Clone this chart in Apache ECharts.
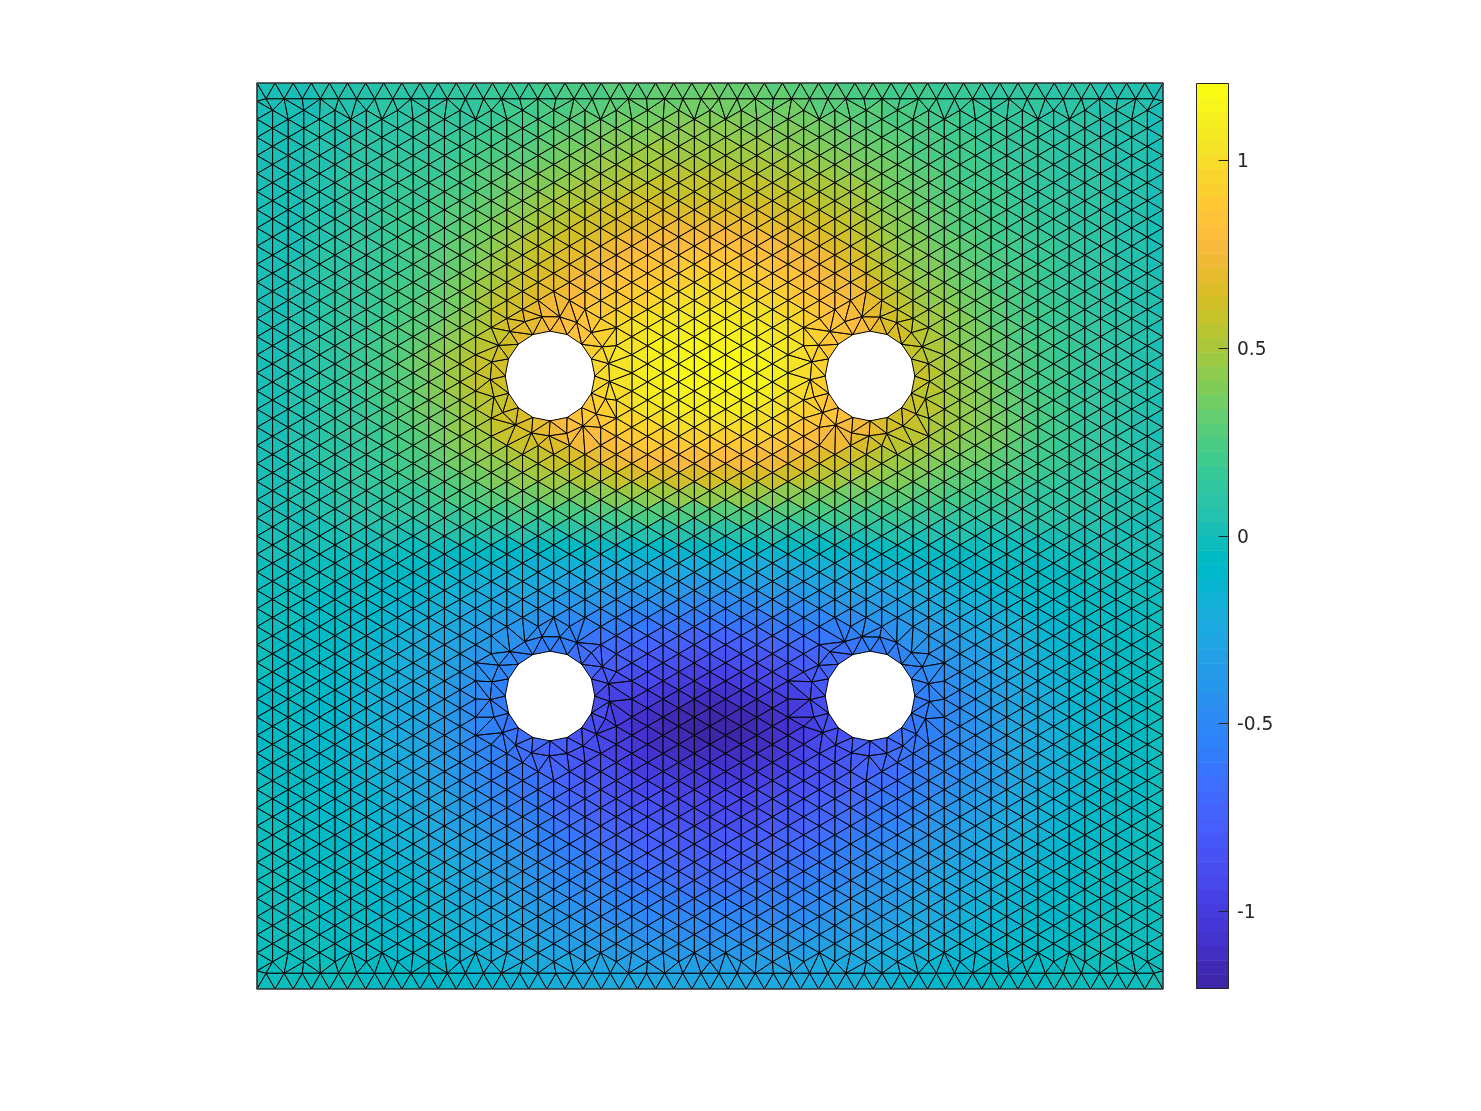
<!DOCTYPE html>
<html>
<head>
<meta charset="utf-8">
<style>html,body{margin:0;padding:0;background:#fff}#chart{width:1481px;height:1111px}</style>
<script src="https://cdn.jsdelivr.net/npm/echarts@6/dist/echarts.min.js"></script>
</head>
<body>
<div id="chart"></div>
<script>
// Field value at each mesh node, in hundredths. Rows run top to bottom, columns left to right.
const nodeValues = [
[1,2,3,3,4,5,6,6,7,8,9,10,11,12,13,14,15,17,19,21,23,24,26,27,28,29,30,31,31,32,32,31,31,30,29,28,27,26,25,24,22,21,20,18,17,16,15,14,13,12,11,10,9,8,7,6,5,4,3],
[1,2,3,3,4,5,6,7,8,9,10,11,12,13,15,16,18,20,22,24,26,28,29,31,32,33,34,35,36,36,36,36,35,34,33,32,31,30,28,27,25,24,22,21,19,18,16,15,14,13,11,10,9,8,7,6,5,4,3],
[1,2,3,4,4,6,7,8,9,10,11,12,14,15,17,19,21,23,25,27,29,31,33,35,36,38,39,40,40,40,40,40,39,38,37,36,34,33,31,30,28,26,24,23,21,19,17,16,15,13,12,10,9,8,7,6,5,4,3],
[1,2,3,4,5,6,7,8,10,11,12,14,16,18,20,22,24,26,29,31,33,36,38,40,41,43,44,45,45,45,45,45,44,43,42,40,39,37,35,33,30,28,26,24,22,20,18,17,15,14,12,11,10,8,7,6,5,4,3],
[1,2,3,4,5,7,8,9,11,12,14,16,18,20,23,25,28,30,33,36,38,41,43,45,47,48,49,50,50,50,50,50,49,48,47,45,44,42,40,37,34,31,29,26,24,22,20,18,16,15,13,11,10,9,8,6,5,4,3],
[1,2,3,4,5,7,9,10,12,14,16,18,20,23,26,29,32,35,38,41,44,47,49,51,53,54,55,56,56,56,56,56,55,54,53,51,49,47,45,42,37,34,31,28,26,23,21,19,17,15,13,12,10,9,8,7,5,4,3],
[1,2,3,4,6,8,9,11,13,15,17,20,23,26,29,32,36,39,43,46,49,52,55,57,59,60,61,62,62,62,62,62,61,60,58,56,54,52,49,46,41,37,34,31,28,25,22,20,18,16,14,12,11,9,8,7,5,4,3],
[1,2,3,4,6,8,10,12,14,17,19,22,25,29,33,36,40,44,48,51,55,58,61,63,65,66,67,68,68,68,68,68,67,66,64,62,60,57,54,50,44,40,36,33,29,26,24,21,19,17,15,13,11,10,8,7,6,4,3],
[1,2,3,4,6,9,11,13,15,18,21,24,28,31,35,39,45,49,53,57,60,64,67,69,71,72,74,75,75,75,75,75,74,72,70,68,65,62,59,55,47,43,39,35,31,28,25,22,20,18,16,14,12,10,9,7,6,4,3],
[1,2,3,4,7,9,11,14,16,19,22,25,29,33,37,43,49,54,58,62,66,69,72,75,77,79,80,82,82,82,82,81,80,78,76,73,71,68,64,60,51,46,42,38,34,30,27,24,21,19,17,15,13,11,9,8,6,4,3],
[1,2,3,5,7,10,12,14,17,20,23,26,30,35,40,46,53,58,63,67,71,74,78,81,83,85,87,89,90,90,90,89,87,85,82,79,76,73,69,65,55,50,45,41,37,33,29,26,23,20,18,15,13,11,10,8,6,4,3],
[2,2,4,5,8,10,12,15,18,21,24,28,32,37,43,50,57,62,67,71,75,79,83,86,89,91,93,96,97,97,97,96,94,91,88,85,81,78,74,70,59,54,49,44,40,36,32,28,25,22,19,16,14,12,10,8,6,5,3],
[2,3,4,5,8,11,13,16,19,22,26,30,34,39,45,52,60,65,70,75,79,83,87,91,94,97,100,102,104,104,104,103,101,98,94,90,86,82,78,74,63,58,52,47,43,38,34,30,26,23,20,17,15,12,10,9,7,5,3],
[2,3,4,6,8,11,14,17,20,24,28,32,37,43,49,56,63,68,73,78,83,87,92,96,100,103,106,108,110,110,110,109,107,104,99,95,90,86,82,78,67,62,56,50,46,41,36,32,28,24,21,18,16,13,11,9,7,5,3],
[2,3,4,6,9,12,14,17,21,25,30,35,41,47,53,60,64,68,73,78,83,88,94,99,103,107,110,113,115,115,115,114,111,108,103,98,93,88,83,78,69,64,59,53,48,43,38,33,29,25,22,19,16,14,11,9,7,5,3],
[2,3,4,6,9,12,15,18,22,27,32,38,44,50,56,60,63,68,73,78,83,89,95,101,106,110,113,116,118,119,119,118,115,111,106,100,95,89,84,78,69,64,60,55,50,45,40,35,31,27,23,20,17,14,12,9,7,5,3],
[2,3,5,6,9,12,15,18,22,27,32,38,44,50,56,60,62,68,73,78,83,90,96,102,107,111,114,117,119,119,119,118,116,111,106,100,94,88,83,78,69,64,60,55,50,45,40,36,31,27,23,20,17,14,12,9,7,5,3],
[2,3,4,6,9,12,14,17,22,26,31,37,42,48,54,58,61,66,71,76,82,88,94,99,104,108,111,114,115,115,115,114,112,107,102,97,91,85,80,76,68,63,59,55,50,45,41,36,32,28,24,20,17,14,12,9,7,5,3],
[2,3,4,6,8,11,13,17,21,25,30,35,40,46,51,56,60,65,70,75,80,85,90,95,99,102,104,106,108,108,108,107,105,102,97,92,87,82,78,74,66,62,58,54,50,46,42,37,33,29,25,21,17,14,12,9,7,5,3],
[2,3,4,5,8,11,13,16,19,24,28,32,37,43,48,53,57,62,67,71,76,80,84,88,91,94,96,97,98,98,98,97,96,93,89,85,81,77,73,69,62,58,55,52,48,45,42,38,34,29,24,20,16,14,11,9,7,5,3],
[2,2,4,5,8,10,12,15,18,22,26,30,34,39,44,48,52,56,60,64,68,72,76,79,82,84,85,85,85,85,85,85,84,81,78,75,72,69,66,62,57,53,49,46,43,40,37,34,30,26,22,19,16,13,11,9,7,5,3],
[2,2,3,5,7,9,11,13,16,19,23,26,30,34,38,42,45,49,52,55,58,61,64,67,69,71,72,72,72,72,72,72,71,69,67,64,61,58,55,52,48,45,42,39,36,33,31,28,25,22,19,17,15,12,10,9,7,5,3],
[2,3,4,5,6,8,10,12,14,16,19,22,25,28,31,34,37,39,41,43,45,47,49,51,53,54,55,55,55,55,55,55,54,52,50,48,46,43,41,39,37,35,33,31,29,27,25,23,21,18,16,14,13,11,9,8,6,4,3],
[2,2,3,4,5,7,8,9,11,13,15,17,19,21,23,25,27,28,29,30,31,32,33,34,35,35,36,36,36,36,36,36,35,34,33,32,30,29,27,26,25,24,23,21,20,19,17,16,14,12,11,10,9,8,7,6,5,4,3],
[1,2,2,3,3,5,6,7,8,9,10,11,12,12,13,14,14,15,15,15,16,16,16,17,17,17,17,17,17,17,17,17,16,16,16,15,15,14,14,13,13,12,12,11,10,10,9,9,8,7,7,6,6,5,5,4,4,3,3],
[1,1,1,1,1,2,2,2,2,1,1,1,0,0,0,-1,-1,-1,-1,-2,-2,-2,-2,-2,-2,-2,-2,-2,-2,-2,-2,-2,-2,-2,-2,-2,-2,-1,-1,-1,0,0,0,0,1,1,1,1,1,1,1,1,1,1,2,2,2,2,2],
[0,0,0,-1,-1,-2,-2,-3,-3,-4,-5,-6,-7,-8,-9,-10,-11,-12,-13,-14,-15,-15,-16,-16,-16,-17,-17,-17,-17,-17,-17,-17,-17,-16,-16,-15,-15,-14,-13,-12,-11,-10,-9,-8,-7,-7,-6,-5,-4,-4,-3,-3,-2,-2,-1,-1,0,0,0],
[-1,-1,-2,-2,-3,-4,-4,-5,-6,-8,-9,-11,-12,-14,-16,-18,-19,-21,-22,-24,-25,-26,-27,-28,-28,-29,-29,-30,-30,-30,-30,-30,-29,-29,-28,-27,-26,-25,-23,-22,-20,-19,-17,-15,-14,-12,-11,-10,-8,-7,-6,-5,-5,-4,-3,-3,-2,-1,0],
[-2,-2,-3,-3,-4,-5,-6,-7,-9,-10,-12,-14,-16,-19,-21,-24,-26,-28,-30,-32,-34,-36,-37,-38,-39,-40,-41,-41,-42,-42,-42,-42,-41,-40,-39,-38,-36,-35,-33,-31,-29,-27,-25,-22,-20,-18,-16,-14,-12,-11,-9,-8,-7,-6,-5,-4,-3,-2,-1],
[-2,-3,-3,-4,-5,-6,-7,-9,-11,-13,-15,-17,-20,-23,-26,-29,-32,-35,-38,-41,-43,-45,-47,-49,-51,-52,-53,-54,-55,-55,-55,-55,-54,-52,-51,-49,-47,-45,-43,-40,-37,-35,-32,-29,-26,-23,-21,-18,-16,-14,-12,-10,-9,-7,-6,-5,-4,-3,-2],
[-3,-3,-4,-5,-6,-7,-9,-11,-13,-15,-18,-20,-24,-27,-31,-35,-39,-43,-47,-50,-53,-56,-58,-60,-62,-64,-65,-67,-68,-68,-68,-68,-67,-65,-63,-61,-59,-56,-53,-50,-47,-44,-40,-36,-33,-29,-26,-23,-20,-17,-15,-13,-11,-9,-7,-6,-5,-3,-2],
[-3,-4,-5,-5,-7,-8,-10,-12,-14,-17,-20,-23,-27,-31,-36,-41,-46,-50,-54,-58,-62,-65,-68,-71,-73,-75,-77,-79,-80,-80,-80,-79,-78,-76,-74,-72,-69,-66,-63,-60,-56,-52,-47,-43,-39,-34,-30,-27,-23,-20,-17,-15,-12,-10,-8,-7,-5,-4,-3],
[-3,-4,-5,-6,-7,-9,-11,-13,-16,-19,-22,-26,-30,-35,-41,-46,-51,-56,-60,-64,-68,-73,-77,-81,-84,-87,-89,-91,-92,-92,-92,-91,-89,-87,-84,-80,-76,-72,-69,-66,-62,-58,-53,-48,-44,-39,-34,-30,-26,-23,-19,-16,-14,-11,-9,-7,-5,-4,-3],
[-4,-4,-5,-6,-8,-10,-12,-14,-17,-21,-24,-28,-33,-38,-44,-50,-55,-60,-64,-68,-72,-78,-83,-88,-92,-96,-99,-101,-103,-103,-103,-102,-99,-96,-92,-87,-82,-77,-72,-68,-65,-61,-57,-52,-47,-42,-37,-33,-28,-25,-21,-18,-15,-12,-10,-8,-6,-4,-3],
[-4,-5,-6,-7,-8,-10,-13,-15,-18,-22,-26,-30,-35,-41,-47,-53,-58,-62,-67,-72,-77,-83,-89,-95,-100,-104,-108,-110,-112,-113,-113,-112,-109,-105,-100,-94,-88,-81,-75,-70,-66,-62,-59,-55,-50,-45,-40,-35,-30,-26,-22,-19,-16,-13,-11,-8,-6,-4,-3],
[-4,-5,-6,-7,-9,-11,-13,-15,-19,-23,-27,-31,-36,-42,-48,-54,-59,-63,-68,-74,-80,-86,-93,-100,-106,-111,-114,-117,-118,-119,-119,-118,-115,-110,-105,-99,-92,-85,-78,-72,-68,-64,-60,-56,-51,-46,-41,-36,-31,-27,-23,-19,-16,-13,-11,-8,-6,-4,-3],
[-4,-5,-6,-7,-9,-11,-13,-15,-19,-23,-27,-31,-36,-42,-48,-54,-59,-63,-68,-74,-80,-86,-92,-98,-104,-109,-112,-115,-117,-117,-117,-116,-113,-109,-104,-98,-92,-86,-79,-74,-70,-65,-61,-57,-52,-47,-41,-36,-31,-27,-23,-19,-16,-13,-11,-8,-6,-4,-3],
[-4,-5,-6,-7,-9,-11,-13,-15,-18,-22,-26,-30,-35,-41,-47,-53,-58,-63,-69,-74,-80,-85,-90,-95,-100,-104,-107,-109,-110,-110,-110,-109,-107,-103,-99,-94,-89,-84,-79,-75,-71,-66,-61,-56,-51,-46,-41,-36,-31,-27,-23,-19,-16,-13,-11,-8,-6,-4,-3],
[-4,-4,-5,-7,-8,-10,-12,-14,-17,-21,-25,-29,-34,-39,-45,-51,-57,-62,-67,-72,-77,-81,-86,-90,-94,-97,-100,-101,-102,-102,-102,-101,-99,-96,-93,-89,-85,-81,-76,-72,-68,-63,-58,-53,-48,-43,-39,-34,-30,-26,-22,-18,-15,-13,-10,-8,-6,-4,-2],
[-3,-4,-5,-6,-8,-9,-11,-13,-16,-20,-24,-27,-32,-37,-42,-48,-53,-58,-63,-67,-72,-76,-80,-84,-87,-90,-92,-93,-94,-94,-94,-93,-92,-89,-86,-83,-79,-75,-71,-67,-63,-58,-54,-49,-45,-40,-36,-32,-28,-24,-20,-17,-14,-12,-9,-7,-5,-4,-2],
[-3,-4,-5,-6,-7,-9,-10,-13,-15,-19,-22,-25,-30,-34,-39,-44,-49,-54,-59,-63,-68,-72,-76,-80,-83,-86,-88,-90,-92,-92,-92,-91,-89,-86,-83,-79,-75,-71,-67,-63,-59,-54,-50,-45,-41,-37,-33,-29,-26,-22,-19,-16,-13,-11,-8,-7,-5,-3,-2],
[-3,-3,-4,-5,-7,-8,-10,-12,-14,-17,-20,-23,-27,-31,-36,-40,-45,-49,-54,-58,-62,-66,-70,-74,-77,-79,-81,-83,-85,-85,-85,-84,-82,-79,-76,-73,-69,-65,-61,-57,-54,-49,-45,-41,-37,-33,-30,-26,-23,-20,-17,-14,-12,-10,-8,-6,-4,-3,-2],
[-2,-3,-4,-5,-6,-7,-9,-11,-13,-16,-18,-21,-25,-28,-32,-36,-41,-45,-49,-53,-57,-60,-64,-67,-70,-73,-75,-77,-78,-78,-78,-77,-75,-72,-69,-66,-63,-59,-55,-52,-48,-44,-41,-37,-33,-30,-27,-23,-20,-18,-15,-13,-11,-9,-7,-5,-4,-3,-1],
[-2,-3,-3,-4,-5,-7,-8,-10,-12,-14,-16,-19,-22,-25,-29,-33,-37,-41,-45,-48,-52,-55,-58,-61,-64,-67,-69,-71,-72,-72,-72,-71,-69,-66,-63,-60,-57,-53,-50,-47,-43,-40,-36,-33,-30,-27,-24,-21,-18,-16,-14,-12,-10,-8,-6,-5,-3,-2,-1],
[-2,-2,-3,-4,-5,-6,-8,-9,-11,-13,-15,-17,-20,-23,-26,-30,-33,-37,-41,-44,-47,-50,-53,-56,-59,-61,-62,-63,-64,-64,-64,-63,-62,-60,-58,-55,-52,-49,-45,-42,-39,-36,-33,-30,-27,-24,-21,-19,-16,-14,-12,-10,-9,-7,-5,-4,-3,-2,-1],
[-2,-2,-3,-3,-4,-6,-7,-8,-10,-12,-13,-15,-18,-21,-24,-27,-30,-33,-37,-40,-43,-46,-49,-51,-53,-54,-55,-56,-57,-57,-57,-56,-55,-54,-52,-50,-47,-44,-41,-38,-35,-32,-29,-26,-24,-21,-19,-16,-14,-12,-10,-9,-7,-6,-5,-3,-2,-2,-1],
[-1,-2,-2,-3,-4,-5,-6,-7,-9,-11,-12,-14,-16,-19,-21,-24,-27,-30,-33,-36,-38,-41,-43,-45,-47,-48,-49,-50,-50,-50,-50,-50,-49,-48,-46,-44,-42,-39,-36,-34,-31,-29,-26,-23,-21,-19,-16,-14,-12,-11,-9,-8,-6,-5,-4,-3,-2,-1,-1],
[-1,-1,-2,-3,-3,-4,-5,-6,-8,-9,-11,-12,-14,-16,-19,-21,-24,-26,-29,-31,-33,-35,-37,-39,-40,-41,-42,-43,-43,-43,-43,-43,-42,-41,-39,-37,-35,-33,-31,-29,-27,-25,-22,-20,-18,-16,-14,-12,-11,-9,-8,-7,-5,-4,-3,-3,-2,-1,0],
[-1,-1,-2,-2,-3,-4,-4,-5,-7,-8,-9,-11,-12,-14,-16,-18,-20,-22,-24,-26,-28,-29,-31,-32,-33,-34,-35,-35,-36,-36,-36,-35,-35,-34,-32,-31,-29,-27,-25,-24,-22,-20,-18,-17,-15,-13,-12,-10,-9,-8,-6,-5,-4,-3,-3,-2,-1,-1,0],
[-1,-1,-1,-2,-2,-3,-4,-4,-5,-6,-8,-9,-10,-12,-13,-15,-16,-18,-20,-22,-23,-25,-26,-27,-28,-28,-29,-29,-30,-30,-30,-29,-29,-28,-27,-26,-24,-23,-21,-20,-18,-17,-15,-14,-12,-11,-10,-8,-7,-6,-5,-4,-3,-3,-2,-2,-1,0,0],
[0,-1,-1,-1,-2,-2,-3,-4,-4,-5,-6,-7,-8,-10,-11,-12,-14,-15,-17,-18,-19,-20,-21,-22,-23,-23,-24,-24,-24,-24,-24,-24,-23,-23,-22,-21,-20,-19,-18,-16,-15,-14,-13,-11,-10,-9,-8,-7,-6,-5,-4,-3,-3,-2,-2,-1,-1,0,0]
];
const colormap = [[.2422,.1504,.6603],[.2504,.165,.7076],[.2578,.1818,.7511],[.2647,.1978,.7952],[.2706,.2147,.8364],[.2751,.2342,.871],[.2783,.2559,.8991],[.2803,.2782,.9221],[.2813,.3006,.9414],[.281,.3228,.9579],[.2795,.3447,.9717],[.276,.3667,.9829],[.2699,.3892,.9906],[.2602,.4123,.9952],[.244,.4358,.9988],[.2206,.4603,.9973],[.1963,.4847,.9892],[.1834,.5074,.9798],[.1786,.5289,.9682],[.1764,.5499,.952],[.1687,.5703,.9359],[.154,.5902,.9218],[.146,.6091,.9079],[.138,.6276,.8973],[.1248,.6459,.8883],[.1113,.6635,.8763],[.0952,.6798,.8598],[.0689,.6948,.8394],[.0297,.7082,.8163],[.0036,.7203,.7917],[.0067,.7312,.766],[.0433,.7411,.7394],[.0964,.75,.712],[.1408,.7584,.6842],[.1717,.767,.6554],[.1938,.7758,.6251],[.2161,.7843,.5923],[.247,.7918,.5567],[.2906,.7973,.5188],[.3406,.8008,.4789],[.3909,.8029,.4354],[.4456,.8024,.3909],[.5044,.7993,.348],[.5616,.7942,.3045],[.6174,.7876,.2612],[.672,.7793,.2227],[.7242,.7698,.191],[.7738,.7598,.1646],[.8203,.7498,.1535],[.8634,.7406,.1596],[.9035,.733,.1774],[.9393,.7288,.21],[.9728,.7298,.2394],[.9956,.7434,.2371],[.997,.7659,.2199],[.9952,.7893,.2028],[.9892,.8136,.1885],[.9786,.8386,.1766],[.9676,.8639,.1643],[.961,.889,.1537],[.9597,.9135,.1423],[.9628,.9373,.1265],[.9691,.9606,.1064],[.9769,.9839,.0805]];
const colorLimits = [-1.205, 1.205];
const colorbarTicks = [-1, -0.5, 0, 0.5, 1];
const holeCenters = [[0.3234,0.3234],[0.6766,0.3234],[0.3234,0.6766],[0.6766,0.6766]];
const holeRadius = 0.0495;
const holeSides = 16;
const meshCols = 58, meshRows = 50;

const toCss = c => 'rgb(' + c.map(v => Math.round(v * 255)).join(',') + ')';
const levelColor = v => {
  const k = Math.floor((v - colorLimits[0]) / (colorLimits[1] - colorLimits[0]) * colormap.length);
  return toCss(colormap[Math.max(0, Math.min(colormap.length - 1, k))]);
};
const nearestValue = (x, y) => {
  const i = Math.max(0, Math.min(meshCols, Math.round(x * meshCols)));
  const off = i % 2 ? 0.5 : 0;
  const j = Math.max(0, Math.min(meshRows, Math.round(y * meshRows - off)));
  return nodeValues[j][i] / 100;
};

// mesh nodes: a lattice, plus boundary layers and hole rims
const nodes = [];
const band = 26 / 906, rowGap = 15.7 / 906, ringGap = 15 / 906, holeGap = 25 / 906;
for (let i = 0; i <= meshCols; i++) {
  const odd = i % 2;
  for (let j = 0; j <= meshRows - (odd ? 1 : 0); j++) {
    const x = i / meshCols, y = (j + (odd ? 0.5 : 0)) / meshRows;
    const edgeCol = i === 0 || i === meshCols;
    if (y === 0 || y === 1) continue;
    if (!edgeCol && (y < band || y > 1 - band)) continue;
    if (holeCenters.some(h => Math.hypot(x - h[0], y - h[1]) < holeRadius + holeGap)) continue;
    nodes.push([x, y, nodeValues[j][i] / 100]);
  }
}
for (let k = 0; k <= meshRows; k++) {
  for (const y of [0, 1]) nodes.push([k / meshRows, y, nearestValue(k / meshRows, y)]);
  if (k < meshRows) for (const y of [rowGap, 1 - rowGap]) {
    nodes.push([(k + 0.5) / meshRows, y, nearestValue((k + 0.5) / meshRows, y)]);
  }
}
for (const h of holeCenters) {
  for (let s = 0; s < holeSides; s++) {
    const a = 2 * Math.PI * s / holeSides;
    const x = h[0] + holeRadius * Math.cos(a), y = h[1] + holeRadius * Math.sin(a);
    nodes.push([x, y, nearestValue(x, y)]);
  }
  const outerSides = holeSides + 5;
  for (let s = 0; s < outerSides; s++) {
    const a = 2 * Math.PI * (s + 0.3) / outerSides;
    const x = h[0] + (holeRadius + ringGap) * Math.cos(a), y = h[1] + (holeRadius + ringGap) * Math.sin(a);
    nodes.push([x, y, nearestValue(x, y)]);
  }
}

// Bowyer-Watson triangulation of the nodes
function triangulate(pts) {
  const P = pts.map((p, k) => {
    const f = (k * 0.6180339887) % 1;
    return [p[0] + f * 2e-7, p[1] + ((k * 0.7548776662) % 1) * 2e-7];
  });
  const n = P.length;
  P.push([-20, -20], [40, -20], [0.5, 60]);
  const circ = (a, b, c) => {
    const [ax, ay] = P[a], [bx, by] = P[b], [cx, cy] = P[c];
    const d = 2 * (ax * (by - cy) + bx * (cy - ay) + cx * (ay - by));
    const a2 = ax * ax + ay * ay, b2 = bx * bx + by * by, c2 = cx * cx + cy * cy;
    const ux = (a2 * (by - cy) + b2 * (cy - ay) + c2 * (ay - by)) / d;
    const uy = (a2 * (cx - bx) + b2 * (ax - cx) + c2 * (bx - ax)) / d;
    return { a, b, c, ux, uy, r2: (ax - ux) ** 2 + (ay - uy) ** 2 };
  };
  let tris = [circ(n, n + 1, n + 2)];
  for (let k = 0; k < n; k++) {
    const [x, y] = P[k];
    const keep = [], edges = new Map();
    for (const t of tris) {
      if ((x - t.ux) ** 2 + (y - t.uy) ** 2 < t.r2) {
        for (const [u, v] of [[t.a, t.b], [t.b, t.c], [t.c, t.a]]) {
          const key = u < v ? u + '_' + v : v + '_' + u;
          if (edges.has(key)) edges.set(key, null); else edges.set(key, [u, v]);
        }
      } else keep.push(t);
    }
    for (const e of edges.values()) if (e) keep.push(circ(e[0], e[1], k));
    tris = keep;
  }
  return tris.filter(t => t.a < n && t.b < n && t.c < n);
}

const faces = [];
for (const t of triangulate(nodes)) {
  const A = nodes[t.a], B = nodes[t.b], C = nodes[t.c];
  const cx = (A[0] + B[0] + C[0]) / 3, cy = (A[1] + B[1] + C[1]) / 3;
  if (holeCenters.some(h => Math.hypot(cx - h[0], cy - h[1]) < holeRadius)) continue;
  faces.push([A[0], A[1], B[0], B[1], C[0], C[1], (A[2] + B[2] + C[2]) / 3]);
}

const bandHeight = (colorLimits[1] - colorLimits[0]) / colormap.length;
const colorbarBands = colormap.map((c, k) => [0, colorLimits[0] + k * bandHeight, 1, colorLimits[0] + (k + 1) * bandHeight, k]);
const tickLength = 0.31;

const chart = echarts.init(document.getElementById('chart'), null, { renderer: 'canvas' });
chart.setOption({
  animation: false,
  backgroundColor: '#fff',
  grid: [
    { left: 257, top: 83, width: 906, height: 906 },
    { left: 1196.5, top: 83.5, width: 32, height: 905 }
  ],
  xAxis: [
    { type: 'value', gridIndex: 0, min: 0, max: 1, show: false },
    { type: 'value', gridIndex: 1, min: 0, max: 1, show: false }
  ],
  yAxis: [
    { type: 'value', gridIndex: 0, min: 0, max: 1, inverse: true, show: false },
    { type: 'value', gridIndex: 1, min: colorLimits[0], max: colorLimits[1], show: false }
  ],
  series: [
    {
      type: 'custom', xAxisIndex: 0, yAxisIndex: 0, data: faces, clip: false, silent: true, progressive: 0,
      encode: { x: 0, y: 1 },
      renderItem: (params, api) => ({
        type: 'polygon', silent: true,
        shape: { points: [api.coord([api.value(0), api.value(1)]), api.coord([api.value(2), api.value(3)]), api.coord([api.value(4), api.value(5)])] },
        style: { fill: levelColor(api.value(6)), stroke: '#000', lineWidth: 1, lineJoin: 'round' }
      })
    },
    {
      type: 'custom', xAxisIndex: 0, yAxisIndex: 0, data: [[0, 0, 1, 1]], clip: false, silent: true, z: 3,
      encode: { x: 0, y: 1 },
      renderItem: (params, api) => {
        const a = api.coord([api.value(0), api.value(1)]), b = api.coord([api.value(2), api.value(3)]);
        return { type: 'rect', silent: true, shape: { x: a[0], y: a[1], width: b[0] - a[0], height: b[1] - a[1] },
          style: { fill: 'none', stroke: '#404040', lineWidth: 1.2 } };
      }
    },
    {
      type: 'custom', xAxisIndex: 1, yAxisIndex: 1, data: colorbarBands, clip: false, silent: true,
      encode: { x: 0, y: 1 },
      renderItem: (params, api) => {
        const a = api.coord([api.value(0), api.value(3)]), b = api.coord([api.value(2), api.value(1)]);
        return { type: 'rect', silent: true, shape: { x: a[0], y: a[1], width: b[0] - a[0], height: b[1] - a[1] + 0.5 },
          style: { fill: toCss(colormap[api.value(4)]) } };
      }
    },
    {
      type: 'custom', xAxisIndex: 1, yAxisIndex: 1, data: [[0, colorLimits[0], 1, colorLimits[1]]], clip: false, silent: true, z: 3,
      encode: { x: 0, y: 1 },
      renderItem: (params, api) => {
        const a = api.coord([api.value(0), api.value(3)]), b = api.coord([api.value(2), api.value(1)]);
        return { type: 'rect', silent: true, shape: { x: a[0], y: a[1], width: b[0] - a[0], height: b[1] - a[1] },
          style: { fill: 'none', stroke: '#262626', lineWidth: 1 } };
      }
    },
    {
      type: 'custom', xAxisIndex: 1, yAxisIndex: 1, data: colorbarTicks.map(v => [1 - tickLength, v, 1]), clip: false, silent: true, z: 4,
      encode: { x: 0, y: 1 },
      renderItem: (params, api) => {
        const a = api.coord([api.value(0), api.value(1)]), b = api.coord([api.value(2), api.value(1)]);
        const y = Math.round(a[1] - 0.5) + 0.5;
        return { type: 'group', silent: true, children: [
          { type: 'line', silent: true, shape: { x1: a[0], y1: y, x2: b[0], y2: y }, style: { stroke: '#262626', lineWidth: 1 } },
          { type: 'text', silent: true, style: { text: String(api.value(1)), x: b[0] + 8.5, y: y + 1.5, align: 'left', verticalAlign: 'middle',
              fill: '#262626', font: '18.67px "DejaVu Sans"' } }
        ] };
      }
    }
  ]
});
</script>
</body>
</html>
